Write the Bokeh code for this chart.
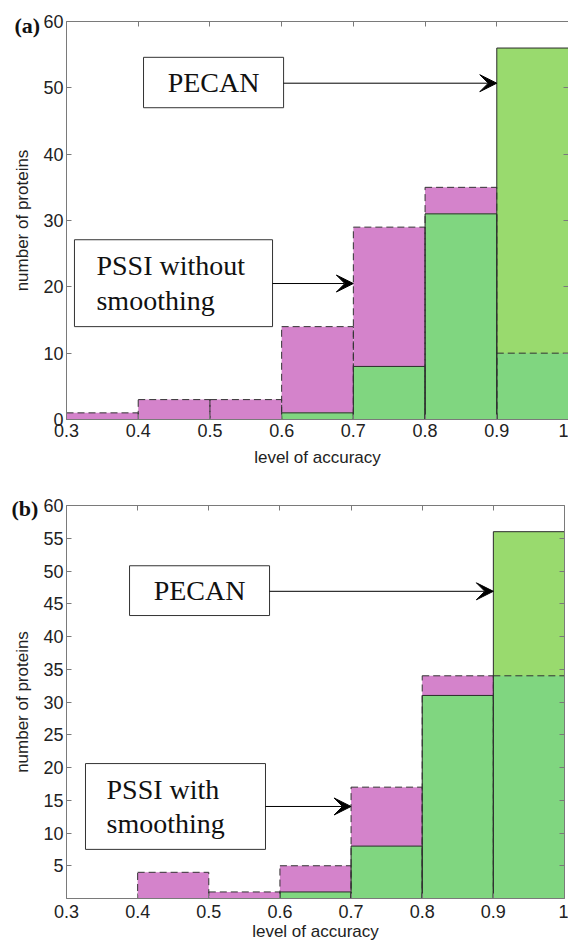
from bokeh.plotting import figure
from bokeh.models import (FixedTicker, CustomJSTickFormatter, LinearAxis, BoxAnnotation,
                          Label, Arrow, VeeHead, Range1d)
from bokeh.layouts import column
from bokeh.embed import file_html
from bokeh.resources import INLINE

# ---------------- data ----------------
bin_edges = [0.3, 0.4, 0.5, 0.6, 0.7, 0.8, 0.9, 1.0]
pecan = [0, 0, 0, 1, 8, 31, 56]
pssi_without_smoothing = [1, 3, 3, 14, 29, 35, 10]
pssi_with_smoothing = [0, 4, 1, 5, 17, 34, 34]

x_ticks = [0.3, 0.4, 0.5, 0.6, 0.7, 0.8, 0.9, 1.0]
y_ticks_a = [0, 10, 20, 30, 40, 50, 60]
y_ticks_b = [5, 10, 15, 20, 25, 30, 35, 40, 45, 50, 55, 60]

# annotation boxes: [left, right, bottom, top] in data units, arrow: [x0, x1, y]
pecan_box_a = [0.4074, 0.6027, 47.0, 54.6]
pecan_arrow_a = [0.6027, 0.9, 50.7]
pssi_box_a = [0.3111, 0.5873, 14.0, 27.1]
pssi_arrow_a = [0.5873, 0.7, 20.5]
pssi_text_x_a = 0.3418

pecan_box_b = [0.3886, 0.5854, 43.2, 50.8]
pecan_arrow_b = [0.5854, 0.9, 46.9]
pssi_box_b = [0.3267, 0.5797, 7.5, 20.6]
pssi_arrow_b = [0.5797, 0.7, 14.05]
pssi_text_x_b = 0.3562

MAGENTA = "#D483CB"
GREEN = "#80D680"
LIGHTGREEN = "#99DA6E"
AXIS_GRAY = "#7a7a7a"
TEXT = "#222222"
SANS = "Liberation Sans"
SERIF = "Liberation Serif"


def make_panel(pssi, y_ticks, tag, frame_w, frame_h, borders,
               pecan_box, pecan_arrow, pssi_box, pssi_arrow, pssi_text_x, pssi_text,
               tag_pos, bottom_std):
    bl, bt, br, bb = borders
    p = figure(frame_width=frame_w, frame_height=frame_h,
               x_range=Range1d(0.3, 1.0), y_range=Range1d(0, 60),
               min_border_left=bl, min_border_top=bt, min_border_right=br,
               min_border_bottom=bb, toolbar_location=None, output_backend="svg",
               background_fill_color="white", border_fill_color="white",
               outline_line_color=None)
    p.xgrid.visible = False
    p.ygrid.visible = False

    # panel tag "(a)" / "(b)" as the plot title, pulled down beside the top tick
    p.title.text = tag
    p.title.align = "left"
    p.title.offset = tag_pos[0]
    p.title.standoff = tag_pos[1]
    p.title.text_font = SERIF
    p.title.text_font_style = "bold"
    p.title.text_font_size = "22px"
    p.title.text_color = "#111111"

    left = bin_edges[:-1]
    right = bin_edges[1:]
    overlap = [min(a, b) for a, b in zip(pssi, pecan)]

    p.quad(left=left, right=right, bottom=0, top=pssi, fill_color=MAGENTA, line_color=None)
    p.quad(left=left, right=right, bottom=0, top=pecan, fill_color=LIGHTGREEN, line_color=None)
    p.quad(left=left, right=right, bottom=0, top=overlap, fill_color=GREEN, line_color=None)
    p.quad(left=left, right=right, bottom=0, top=pecan, fill_color=None,
           line_color="#2b2b2b", line_width=1)
    p.quad(left=left, right=right, bottom=0, top=pssi, fill_color=None,
           line_color="#333333", line_width=1, line_dash="7 4")

    # axes
    xa = p.xaxis[0]
    xa.ticker = FixedTicker(ticks=x_ticks)
    xa.formatter = CustomJSTickFormatter(code="return tick.toString()")
    ya = p.yaxis[0]
    ya.ticker = FixedTicker(ticks=y_ticks)
    for ax in (xa, ya):
        ax.major_tick_in = 5
        ax.major_tick_out = 0
        ax.minor_tick_in = 0
        ax.minor_tick_out = 0
        ax.axis_line_color = AXIS_GRAY
        ax.major_tick_line_color = AXIS_GRAY
        ax.major_label_text_font = SANS
        ax.major_label_text_font_size = "18px"
        ax.major_label_text_color = TEXT
        ax.axis_label_text_font = SANS
        ax.axis_label_text_font_size = "17px"
        ax.axis_label_text_font_style = "normal"
        ax.axis_label_text_color = TEXT
    xa.axis_label = "level of accuracy"
    ya.axis_label = "number of proteins"
    ya.major_label_standoff = 3
    ya.axis_label_standoff = 8
    xa.major_label_standoff = bottom_std[0]
    xa.axis_label_standoff = bottom_std[1]

    top = LinearAxis(ticker=FixedTicker(ticks=x_ticks),
                     formatter=CustomJSTickFormatter(code="return ''"))
    rgt = LinearAxis(ticker=FixedTicker(ticks=y_ticks),
                     formatter=CustomJSTickFormatter(code="return ''"))
    for ax in (top, rgt):
        ax.major_tick_in = 5
        ax.major_tick_out = 0
        ax.minor_tick_in = 0
        ax.minor_tick_out = 0
        ax.major_label_text_font_size = "0px"
        ax.major_label_standoff = 0
        ax.axis_line_color = AXIS_GRAY
        ax.major_tick_line_color = AXIS_GRAY
    p.add_layout(top, "above")
    p.add_layout(rgt, "right")

    # annotation boxes
    for box in (pecan_box, pssi_box):
        p.add_layout(BoxAnnotation(left=box[0], right=box[1], bottom=box[2], top=box[3],
                                   fill_color="white", fill_alpha=1.0,
                                   line_color="#333333", line_width=1, line_alpha=1.0))
    p.add_layout(Label(x=(pecan_box[0] + pecan_box[1]) / 2, y=(pecan_box[2] + pecan_box[3]) / 2,
                       text="PECAN", text_font=SERIF, text_font_size="28px",
                       text_align="center", text_baseline="middle", text_color="#111111"))
    p.add_layout(Label(x=pssi_text_x, y=(pssi_box[2] + pssi_box[3]) / 2,
                       text=pssi_text, text_font=SERIF, text_font_size="28px",
                       text_align="left", text_baseline="middle", text_color="#111111",
                       text_line_height=1.12))
    for arr in (pecan_arrow, pssi_arrow):
        p.add_layout(Arrow(end=VeeHead(size=17, fill_color="black", line_color="black"),
                           x_start=arr[0], y_start=arr[2], x_end=arr[1], y_end=arr[2],
                           line_color="black", line_width=1))
    return p


pa = make_panel(pssi_without_smoothing, y_ticks_a, "(a)", 502, 398, (63, 21, 3, 51),
                pecan_box_a, pecan_arrow_a, pssi_box_a, pssi_arrow_a, pssi_text_x_a,
                "PSSI without\nsmoothing", (-52, -32), (4, 8))
pb = make_panel(pssi_with_smoothing, y_ticks_b, "(b)", 498, 393, (66, 35, 4, 44),
                pecan_box_b, pecan_arrow_b, pssi_box_b, pssi_arrow_b, pssi_text_x_b,
                "PSSI with\nsmoothing", (-55, -30), (6, 1))

layout = column(pa, pb)
open("out.html", "w").write(file_html(layout, INLINE))
